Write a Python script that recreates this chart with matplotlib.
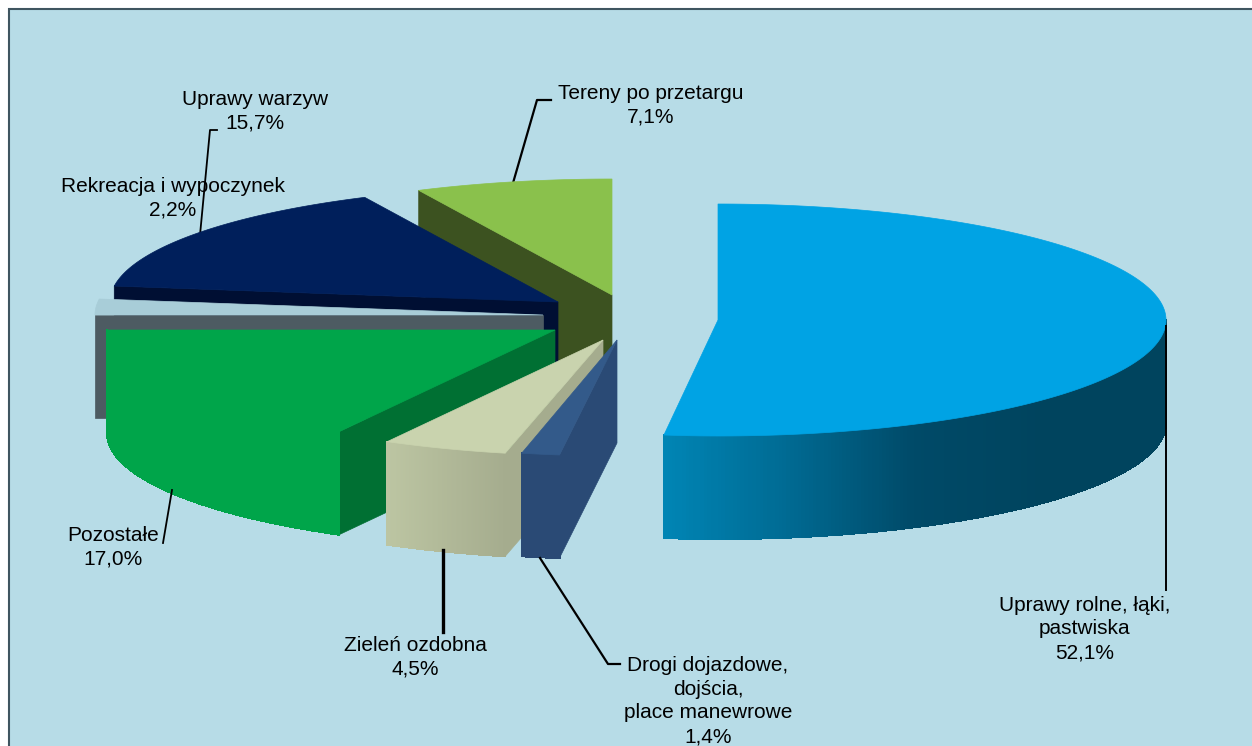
import numpy as np
import matplotlib
matplotlib.use('Agg')
import matplotlib.pyplot as plt
from matplotlib.collections import PolyCollection
from matplotlib.colors import LinearSegmentedColormap
from matplotlib.patches import Rectangle

plt.rcParams['font.family'] = ['Liberation Sans', 'DejaVu Sans']

# -----------------------
# Data (clockwise from 12 o'clock)
# -----------------------
names = ['Uprawy rolne, łąki,\npastwiska', 'Drogi dojazdowe,\ndojścia,\nplace manewrowe',
         'Zieleń ozdobna', 'Pozostałe', 'Rekreacja i wypoczynek', 'Uprawy warzyw', 'Tereny po przetargu']
values = [52.1, 1.4, 4.5, 17.0, 2.2, 15.7, 7.1]

# -----------------------
# Styles and layout (pixels of the 1252x746 picture)
# -----------------------
top_colors = ['#00A3E4', '#335A8A', '#C9D3AE', '#00A54A', '#A8CDD8', '#001F5B', '#8AC14C']
side_colors = ['#004A68', '#2A4A75', '#A5AC8E', '#007033', '#4D5B62', '#000F33', '#3C5220']
rim_stops = [['#0085B5', '#006A92', '#004A68', '#00445E', '#00445E'],
             ['#2A4A75', '#2A4A75'],
             ['#BCC5A2', '#A5AC8E'],
             ['#00A54A', '#00A54A'],
             ['#4D5B62', '#4D5B62'],
             ['#000F33', '#000F33'],
             ['#3C5220', '#3C5220']]
apex_x = [718, 617, 603, 555, 543, 558, 612]
apex_y = [320, 340, 340, 330, 315, 302, 295]
draw_order = [6, 5, 4, 3, 2, 1, 0]
rx, ry, depth = 448, 116, 103
# the picture is slightly pinched left of the vertical for the two front slices
rx_left = [411, 437, 448, 448, 448, 448, 448]

fig = plt.figure(figsize=(12.52, 7.46), dpi=100, facecolor='white')
ax = fig.add_axes([0, 0, 1, 1])
ax.set_xlim(0, 1252)
ax.set_ylim(746, 0)
ax.axis('off')

ax.add_patch(Rectangle((8.5, 8.5), 1250, 745, facecolor='#B7DCE7', edgecolor='#3F5560', lw=1.5))


def rim_point(i, angle):
    s = np.sin(angle)
    return apex_x[i] + np.where(s < 0, rx_left[i], rx) * s, apex_y[i] - ry * np.cos(angle)


# -----------------------
# Slices, back to front
# -----------------------
ends = np.cumsum(values) / np.sum(values) * 2 * np.pi
starts = np.concatenate([[0], ends[:-1]])

for z, i in enumerate(draw_order):
    cx, cy = apex_x[i], apex_y[i]
    a0, a1 = starts[i], ends[i]
    # flat cut face
    if a0 > 0:
        x0, y0 = rim_point(i, a0)
        ax.fill([cx, x0, x0, cx], [cy, y0, y0 + depth, cy + depth], color=side_colors[i], lw=0.5, zorder=3 + z)
    # outer rim with its gradient
    v0, v1 = max(a0, np.pi / 2), min(a1, 1.5 * np.pi)
    if v1 > v0:
        angles = np.linspace(v0, v1, 200)
        xs, ys = rim_point(i, angles)
        quads = [[(xs[k], ys[k]), (xs[k + 1], ys[k + 1]), (xs[k + 1], ys[k + 1] + depth), (xs[k], ys[k] + depth)]
                 for k in range(len(xs) - 1)]
        cmap = LinearSegmentedColormap.from_list('rim', rim_stops[i])
        colors = cmap((xs[:-1] - xs.min()) / (xs.max() - xs.min()))
        ax.add_collection(PolyCollection(quads, facecolors=colors, edgecolors=colors, linewidths=0.8,
                                         antialiaseds=False, zorder=3 + z))
    # top face
    angles = np.linspace(a0, a1, 200)
    xs, ys = rim_point(i, angles)
    ax.fill(np.r_[cx, xs], np.r_[cy, ys], color=top_colors[i], lw=0.5, zorder=3 + z)

# -----------------------
# Leader lines
# -----------------------
ax.plot([1166, 1166], [326, 590], color='black', lw=1.4, zorder=20)
ax.plot([540, 608, 620], [558, 664, 664], color='black', lw=1.6, zorder=20)
ax.plot([443, 443], [550, 632], color='black', lw=2.4, zorder=20)
ax.plot([172, 163], [490, 543], color='black', lw=1.3, zorder=20)
ax.plot([200, 210, 217], [235, 130, 130], color='black', lw=1.3, zorder=2)
ax.plot([513, 537, 551], [183, 100, 100], color='black', lw=1.6, zorder=2)

# -----------------------
# Labels
# -----------------------
label_x = [1085, 708, 415, 113, 173, 255, 651]
label_y = [629, 701, 657, 547, 198, 111, 105]
for i in range(len(values)):
    text = names[i] + '\n' + f'{values[i]:.1f}%'.replace('.', ',')
    ax.text(label_x[i], label_y[i], text, ha='center', va='center', fontsize=15,
            linespacing=1.33, color='black', zorder=25)

fig.savefig('out.png', dpi=100)
